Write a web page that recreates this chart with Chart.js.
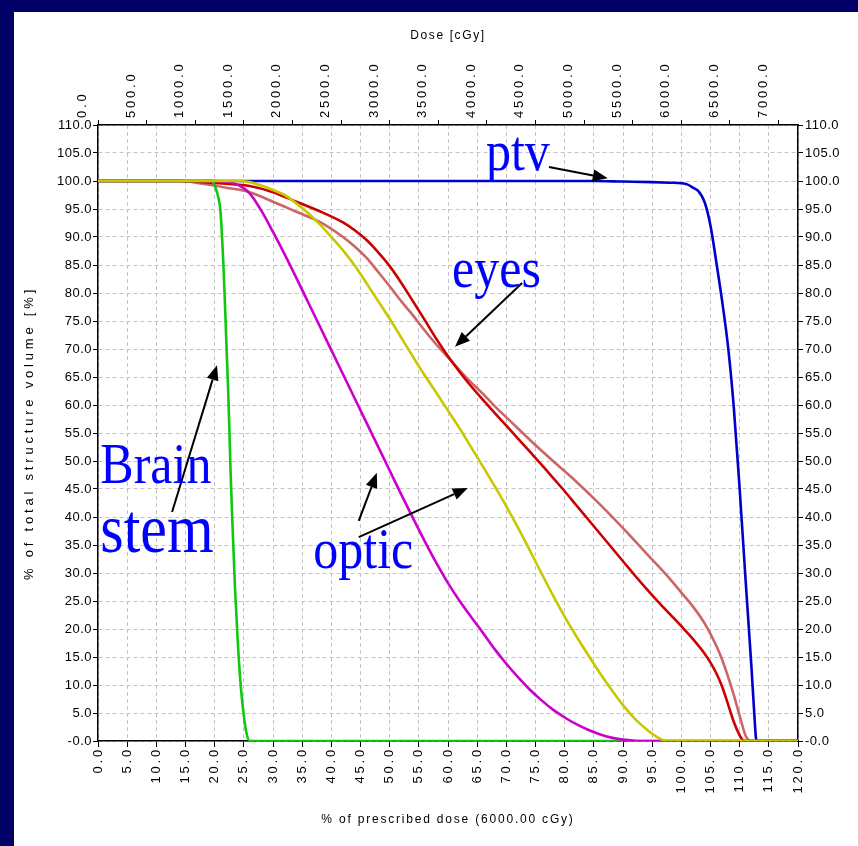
<!DOCTYPE html>
<html><head><meta charset="utf-8">
<script src="https://cdn.jsdelivr.net/npm/chart.js@4.4.1/dist/chart.umd.min.js"></script>
<style>
html,body{margin:0;padding:0;background:#000066;width:858px;height:846px;overflow:hidden}
#wrap{position:absolute;left:14px;top:12px;width:844px;height:834px;background:#fff}
canvas{display:block}
</style></head><body>
<div id="wrap"><canvas id="c" width="844" height="834"></canvas></div>
<script>
// ---- axis data ----
const prescribedDose = 6000; // cGy
const pctTickValues = [0,5,10,15,20,25,30,35,40,45,50,55,60,65,70,75,80,85,90,95,100,105,110,115,120];
const pctTickLabels = ['0.0','5.0','10.0','15.0','20.0','25.0','30.0','35.0','40.0','45.0','50.0','55.0','60.0','65.0','70.0','75.0','80.0','85.0','90.0','95.0','100.0','105.0','110.0','115.0','120.0'];
const doseTickValues = [0,500,1000,1500,2000,2500,3000,3500,4000,4500,5000,5500,6000,6500,7000];
const doseTickLabels = ['0.0','500.0','1000.0','1500.0','2000.0','2500.0','3000.0','3500.0','4000.0','4500.0','5000.0','5500.0','6000.0','6500.0','7000.0'];
const volTickValues = [0,5,10,15,20,25,30,35,40,45,50,55,60,65,70,75,80,85,90,95,100,105,110];
const volTickLabels = ['-0.0','5.0','10.0','15.0','20.0','25.0','30.0','35.0','40.0','45.0','50.0','55.0','60.0','65.0','70.0','75.0','80.0','85.0','90.0','95.0','100.0','105.0','110.0'];

// ---- series data (x = % of prescribed dose, y = % volume) ----
const ptvDose = [0,85,90,95,98,100,101,102,103,104,105,106,107,108,109,110,111,112,112.5,112.8,113,120];
const ptvVol  = [100,100,99.9,99.8,99.7,99.6,99.4,98.8,98.1,96.2,92,85.5,78.5,70.5,59.5,45,29,13.5,5,0.5,0,0];

const eyeRDose = [0,14,18,22,26,30,34,38,42,44,46,48,50,52,54,56,58,60,62,64,66,68,70,72,74,76,78,80,82,84,86,88,90,92,94,96,98,100,102,104,105,106,107,108,109,110,110.5,111,120];
const eyeRVol  = [100,100,99.8,99.5,99.1,98,96.3,94.6,92.6,91.2,89.5,87.3,84.8,81.8,78.5,75.2,71.8,68.7,65.9,63.3,60.9,58.6,56.3,54,51.7,49.4,47,44.6,42.1,39.6,37.1,34.6,32.1,29.6,27.2,24.9,22.7,20.5,18.2,15.6,14,12.1,9.7,6.6,3.4,1,0.2,0,0];

const eyeLDose = [0,14,18,22,26,30,34,38,42,44,46,48,50,52,54,56,58,60,62,64,66,68,70,72,74,78,82,86,90,94,98,100,102,104,106,107,108,109,110,111,111.5,112,120];
const eyeLVol  = [100,100,99.5,98.8,98,96.3,94.5,92.7,90,88.3,86.3,83.8,81.2,78.5,76,73.3,70.8,68.5,66.2,64,62,59.8,57.8,55.8,53.8,50,46.3,42.3,38,33.5,29,26.5,24,21,17,14.5,11.5,8.2,4.5,1,0.2,0,0];

const stemDose = [0,19.5,20,20.5,21,21.5,21.8,22.1,22.3,22.5,22.7,23,23.5,24,24.5,25,25.5,26,120];
const stemVol  = [100,100,99.2,97.6,94.5,85,77,68.5,63,56.5,49,40,27,17,9.5,4.5,1.2,0,0];

const optic1Dose = [0,20,22,24,26,28,30,32,34,36,38,40,42,44,46,48,50,52,54,56,58,60,62,64,66,68,70,72,74,76,78,80,82,84,86,88,90,92,93,120];
const optic1Vol  = [100,100,99.9,99.3,97.8,94.7,90.9,86.9,82.7,78.4,74.1,69.8,65.5,61.2,56.9,52.6,48.3,44,39.8,35.7,31.8,28.2,25,22.1,19.3,16.4,13.8,11.4,9.2,7.3,5.6,4.2,3,2,1.2,0.6,0.25,0.05,0,0];

const optic2Dose = [0,24,26,28,30,32,34,36,38,40,42,44,46,48,50,52,54,56,58,60,62,64,66,68,70,72,74,76,78,80,82,84,86,88,90,92,94,95,96,97,97.5,120];
const optic2Vol  = [100,100,99.8,99.2,98.4,97.5,96,94.3,92.3,90,87.6,84.9,81.8,78.6,75.4,72,68.6,65.3,62.2,59,55.8,52.4,49,45.5,41.9,38.1,34.1,30,26,22.2,18.7,15.4,12.2,9.2,6.4,4,2.1,1.3,0.6,0.1,0,0];

// ---- annotations (data units) ----
const noteTexts = ['ptv','eyes','Brain','stem','optic'];
const noteSizes = [50,50,50,60,50];
const notePos = [[66.5,102.0],[60.7,81.1],[0.4,46.1],[0.4,33.8],[36.9,30.9]];
const arrowTail = [[77.3,102.5],[72.7,81.8],[12.7,40.9],[44.7,39.3],[44.7,36.4]];
const arrowHead = [[87.4,100.5],[61.2,70.4],[20.4,67.1],[47.8,47.9],[63.4,45.2]];

const pts = (xs, ys) => xs.map((v, i) => ({x: v, y: ys[i]}));
const SANS = "'Liberation Sans', Arial, sans-serif";

function line(label, xs, ys, color) {
  return {label, data: pts(xs, ys), borderColor: color, backgroundColor: color,
    borderWidth: 2.6, pointRadius: 0, fill: false, cubicInterpolationMode: 'monotone',
    xAxisID: 'x', yAxisID: 'y'};
}

const spacing = {x:{labels:2.8,title:1.8}, x2:{labels:2.8,title:1.6}, y:{labels:0.5,title:3.8}, y2:{labels:0.5,title:0}};
const spacingPlugin = {
  id: 'spacing',
  beforeDraw(chart) {
    for (const id in chart.scales) {
      const s = chart.scales[id];
      if (s.__sp) continue; s.__sp = true;
      const cfg = spacing[id] || {labels:0,title:0};
      const dl = s.drawLabels, dt = s.drawTitle;
      s.drawLabels = function (a) { const c = this.ctx; c.save(); c.letterSpacing = cfg.labels + 'px'; dl.call(this, a); c.restore(); };
      s.drawTitle = function () { const c = this.ctx; c.save(); c.letterSpacing = cfg.title + 'px'; dt.call(this); c.restore(); };
    }
  }
};

const notesPlugin = {
  id: 'notes',
  afterDatasetsDraw(chart) {
    const {ctx, scales: {x, y}} = chart;
    ctx.save();
    ctx.strokeStyle = '#000'; ctx.fillStyle = '#000'; ctx.lineWidth = 2;
    arrowTail.forEach((t, i) => {
      const h = arrowHead[i];
      const x1 = x.getPixelForValue(t[0]), y1 = y.getPixelForValue(t[1]);
      const x2 = x.getPixelForValue(h[0]), y2 = y.getPixelForValue(h[1]);
      const ang = Math.atan2(y2 - y1, x2 - x1);
      const L = 15, W = 6;
      const bx = x2 - L * Math.cos(ang), by = y2 - L * Math.sin(ang);
      ctx.beginPath(); ctx.moveTo(x1, y1); ctx.lineTo(bx, by); ctx.stroke();
      ctx.beginPath();
      ctx.moveTo(x2, y2);
      ctx.lineTo(bx + W * Math.sin(ang), by - W * Math.cos(ang));
      ctx.lineTo(bx - W * Math.sin(ang), by + W * Math.cos(ang));
      ctx.closePath(); ctx.fill();
    });
    ctx.fillStyle = '#0000ff';
    ctx.textBaseline = 'alphabetic'; ctx.textAlign = 'left';
    noteTexts.forEach((t, i) => {
      ctx.font = noteSizes[i] + "px 'Liberation Serif', 'Times New Roman', serif";
      const px = x.getPixelForValue(notePos[i][0]), py = y.getPixelForValue(notePos[i][1]);
      ctx.save(); ctx.translate(px, py); ctx.scale(1, 1.15); ctx.fillText(t, 0, 0); ctx.restore();
    });
    ctx.restore();
  }
};

const gridCommon = {color: '#c4c4c4', lineWidth: 1, tickColor: '#000', tickWidth: 1};
const borderCommon = {display: true, color: '#000', width: 1.5, dash: [4, 3]};

new Chart(document.getElementById('c'), {
  type: 'line',
  data: {
    datasets: [
      line('optic (2)', optic2Dose, optic2Vol, '#c8c800'),
      line('optic (1)', optic1Dose, optic1Vol, '#cc00cc'),
      line('brain stem', stemDose, stemVol, '#11c811'),
      line('eye (1)', eyeRDose, eyeRVol, '#cc0000'),
      line('eye (2)', eyeLDose, eyeLVol, '#cc6666'),
      line('ptv', ptvDose, ptvVol, '#0000cc')
    ]
  },
  options: {
    responsive: false, animation: false,
    layout: {padding: 0},
    plugins: {legend: {display: false}, tooltip: {enabled: false}},
    scales: {
      x: {type: 'linear', position: 'bottom', min: 0, max: 120,
        afterBuildTicks: s => { s.ticks = pctTickValues.map(v => ({value: v})); },
        afterFit: s => { s.height = 105; },
        ticks: {callback: (v, i) => pctTickLabels[i], minRotation: 90, maxRotation: 90, autoSkip: false,
          font: {family: SANS, size: 13}, color: '#000', padding: 0},
        grid: Object.assign({}, gridCommon, {tickLength: 6}),
        border: borderCommon,
        title: {display: true, text: '% of prescribed dose (6000.00 cGy)', color: '#000',
          font: {family: SANS, size: 12}, padding: {top: 0, bottom: 19}}
      },
      x2: {type: 'linear', position: 'top', min: 0, max: prescribedDose * 1.2,
        afterBuildTicks: s => { s.ticks = doseTickValues.map(v => ({value: v})); },
        afterFit: s => { s.height = 113; },
        ticks: {callback: (v, i) => doseTickLabels[i], minRotation: 90, maxRotation: 90, autoSkip: false,
          font: {family: SANS, size: 13}, color: '#000', padding: 2},
        grid: Object.assign({}, gridCommon, {tickLength: 5, drawOnChartArea: false}),
        border: borderCommon,
        title: {display: true, text: 'Dose [cGy]', color: '#000',
          font: {family: SANS, size: 12}, padding: {top: 16, bottom: 0}}
      },
      y: {type: 'linear', position: 'left', min: 0, max: 110,
        afterBuildTicks: s => { s.ticks = volTickValues.map(v => ({value: v})); },
        afterFit: s => { s.width = 84; },
        ticks: {callback: (v, i) => volTickLabels[i], autoSkip: false,
          font: {family: SANS, size: 13}, color: '#000', padding: 1},
        grid: Object.assign({}, gridCommon, {tickLength: 5}),
        border: borderCommon,
        title: {display: true, text: '% of total structure volume [%]', color: '#000',
          font: {family: SANS, size: 13}, padding: {top: 8, bottom: 0}}
      },
      y2: {type: 'linear', position: 'right', min: 0, max: 110,
        afterBuildTicks: s => { s.ticks = volTickValues.map(v => ({value: v})); },
        afterFit: s => { s.width = 60; },
        ticks: {callback: (v, i) => volTickLabels[i], autoSkip: false,
          font: {family: SANS, size: 13}, color: '#000', padding: 2},
        grid: Object.assign({}, gridCommon, {tickLength: 5, drawOnChartArea: false}),
        border: borderCommon
      }
    }
  },
  plugins: [spacingPlugin, notesPlugin]
});
</script>
</body></html>
